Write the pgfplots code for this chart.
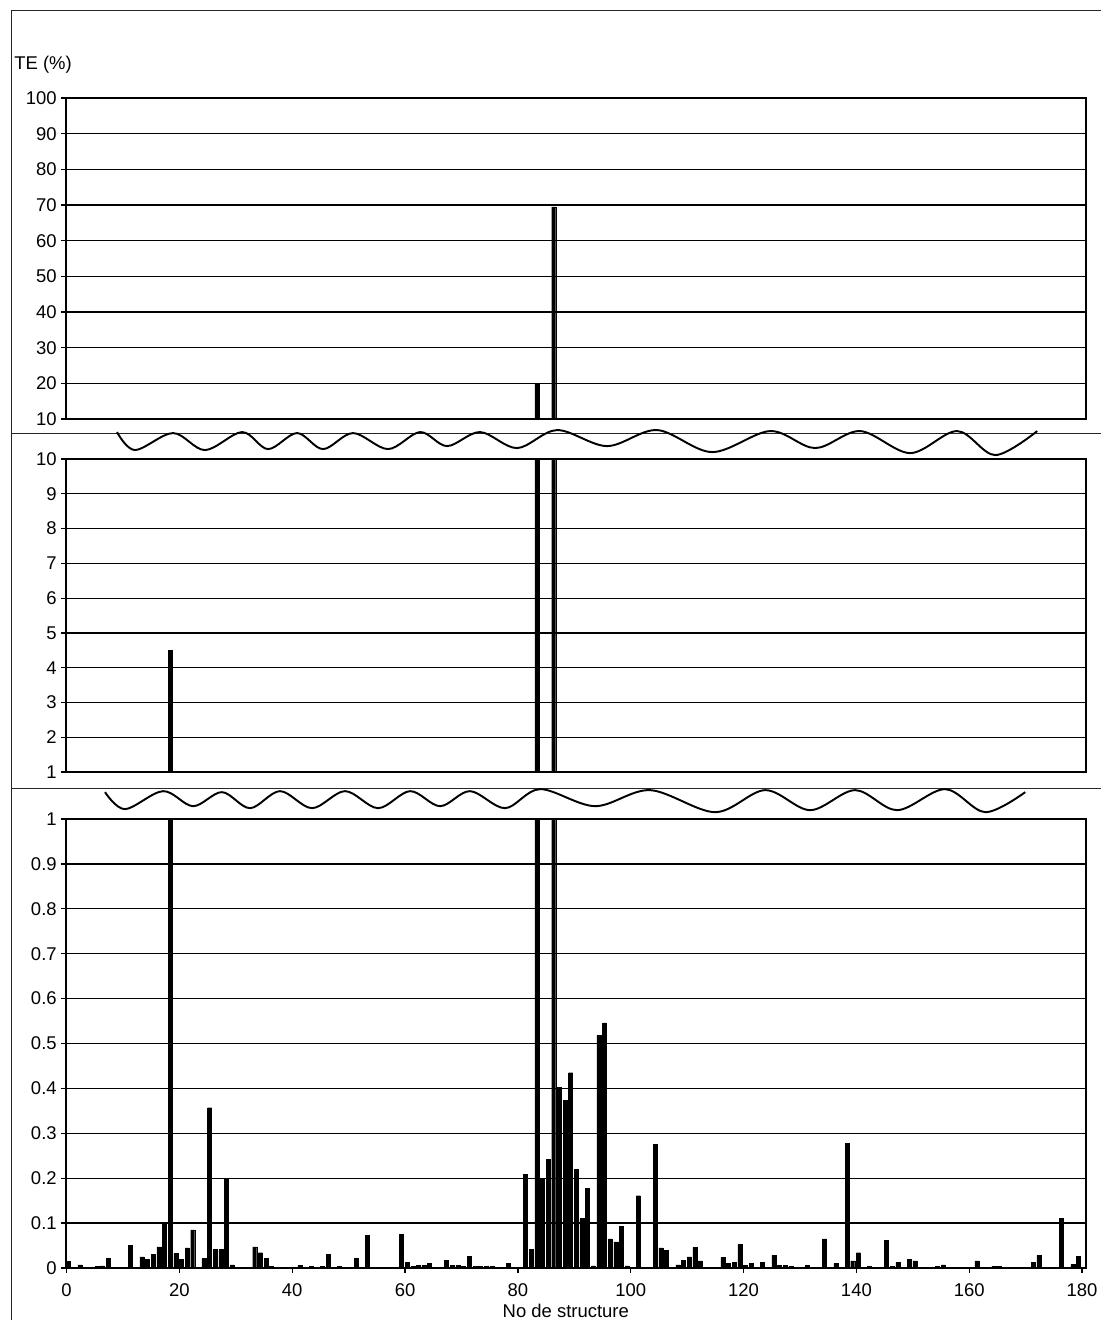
\documentclass[border=0pt]{standalone}
\usepackage{pgfplots}
\pgfplotsset{compat=1.18}
\usepackage{pgfplotstable}
\usepackage{fontspec}
\setmainfont{Liberation Sans}

\pgfplotstableread{
x y
0 0.015
1 0.002
2 0.007
4 0.002
5 0.003
6 0.005
7 0.022
8 0.002
11 0.050
12 0.002
13 0.025
14 0.019
15 0.030
16 0.047
17 0.100
18 4.5
19 0.032
20 0.019
21 0.045
22 0.085
23 0.002
24 0.021
25 0.357
26 0.041
27 0.041
28 0.199
29 0.007
30 0.002
31 0.002
33 0.047
34 0.034
35 0.021
36 0.003
38 0.002
41 0.006
43 0.003
45 0.003
46 0.030
48 0.003
50 0.002
51 0.021
53 0.072
59 0.075
60 0.012
61 0.003
62 0.006
63 0.006
64 0.011
65 0.002
67 0.017
68 0.006
69 0.006
70 0.003
71 0.026
72 0.003
73 0.003
74 0.003
75 0.003
76 0.002
78 0.010
80 0.002
81 0.208
82 0.042
83 20
84 0.200
85 0.242
86 69.5
87 0.403
88 0.374
89 0.435
90 0.219
91 0.110
92 0.178
93 0.005
94 0.518
95 0.546
96 0.065
97 0.058
98 0.093
99 0.005
101 0.161
103 0.002
104 0.276
105 0.045
106 0.039
107 0.002
108 0.007
109 0.017
110 0.025
111 0.046
112 0.016
116 0.023
117 0.010
118 0.012
119 0.052
120 0.006
121 0.010
123 0.012
125 0.028
126 0.006
127 0.006
128 0.003
130 0.002
131 0.006
134 0.065
136 0.010
138 0.277
139 0.016
140 0.034
142 0.004
145 0.062
146 0.004
147 0.012
149 0.019
150 0.016
152 0.002
154 0.003
155 0.007
161 0.016
164 0.004
165 0.004
170 0.002
171 0.012
172 0.028
176 0.110
178 0.008
179 0.026
}\datatable

\pgfplotsset{
  panel/.style={
    scale only axis,
    width=20.4cm,
    xmin=-0.1, xmax=180.7,
    anchor=south west,
    axis line style={black, line width=0.8pt},
    ymajorgrids,
    major grid style={black, line width=0.7pt},
    tick pos=left,
    tick align=outside,
    major tick length=0.1cm,
    tick style={black, line width=0.7pt},
    font=\fontsize{10.5}{12}\selectfont,
    /pgf/number format/assume math mode=true,
    yticklabel style={inner sep=0pt, anchor=east, xshift=-0.08cm},
    clip=true,
  },
  bars/.style={ybar, fill=black, draw=black, line width=0.2pt, bar width=0.08cm, bar shift=0.04cm},
}

\begin{document}
\begin{tikzpicture}
\path[use as bounding box] (0,0) rectangle (22.02,26.4);

% outer frame and panel separators
\begin{scope}[x=0.02cm, y=-0.02cm, yshift=26.4cm]
  \draw[line width=0.5pt, black!85] (11,1320) -- (11,10) -- (1101,10);
  \draw[line width=0.6pt, black!85] (11,433) -- (1101,433);
  \draw[line width=0.6pt, black!85] (11,788) -- (1101,788);
  \node[anchor=west, inner sep=0pt, font=\fontsize{10.5}{12}\selectfont] at (14,65) {TE (\%)};
\end{scope}

% top panel: 10 - 100
\begin{axis}[panel,
  at={(1.32cm,18.02cm)}, height=6.42cm,
  ymin=10, ymax=100, ytick={10,20,...,100},
  xtick=\empty]
  \addplot[bars] table[x=x, y=y] {\datatable};
\end{axis}

% middle panel: 1 - 10
\begin{axis}[panel,
  at={(1.32cm,10.96cm)}, height=6.26cm,
  ymin=1, ymax=10, ytick={1,2,...,10},
  restrict y to domain*=0:12,
  xtick=\empty]
  \addplot[bars] table[x=x, y=y] {\datatable};
\end{axis}

% bottom panel: 0 - 1
\begin{axis}[panel,
  at={(1.32cm,1.04cm)}, height=8.98cm,
  ymin=0, ymax=1, ytick={0,0.1,...,1.01},
  restrict y to domain*=0:1.2,
  yticklabels={0,0.1,0.2,0.3,0.4,0.5,0.6,0.7,0.8,0.9,1},
  xtick={0,20,...,180},
  xticklabel style={inner sep=0pt, anchor=north, yshift=-0.2cm},
  xlabel={No de structure},
  xlabel style={at={(axis description cs:0.49,0)}, anchor=center, inner sep=0pt, yshift=-0.86cm}]
  \addplot[bars] table[x=x, y=y] {\datatable};
\end{axis}

% break marks (wavy lines)
\begin{scope}[x=0.02cm, y=-0.02cm, yshift=26.4cm]
  \draw[line width=1.1pt, black] plot[smooth, tension=0.55] coordinates {
    (117,432) (135,450) (173,433) (205,450) (242,432) (268,449) (297,433)
    (323,449) (353,433) (388,449) (420,432) (447,446) (480,432) (517,448)
    (557,430) (607,446) (657,430) (712,452) (770,431) (815,448) (860,431)
    (910,453) (957,431) (995,455) (1037,431)};
  \draw[line width=1.1pt, black] plot[smooth, tension=0.55] coordinates {
    (105,792) (125,809) (163,791) (193,806) (222,792) (250,808) (280,791)
    (312,808) (345,791) (378,808) (410,791) (440,806) (470,791) (505,808)
    (540,789) (595,806) (650,790) (715,812) (765,790) (810,810) (855,790)
    (897,810) (945,789) (985,812) (1025,792)};
\end{scope}
\end{tikzpicture}
\end{document}
